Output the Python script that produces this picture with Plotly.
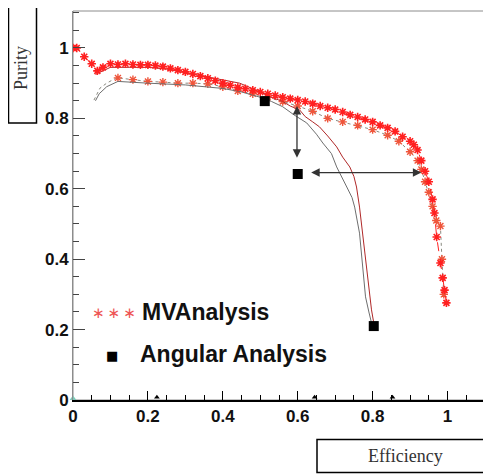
import plotly.graph_objects as go

# --- MVAnalysis (red stars) ---
mv_x = [0.0, 0.01, 0.03, 0.05, 0.065, 0.08, 0.10, 0.12, 0.14, 0.16, 0.18, 0.20, 0.22, 0.24,
        0.26, 0.28, 0.30, 0.32, 0.34, 0.36, 0.38, 0.40, 0.42, 0.44, 0.46, 0.48, 0.50, 0.52,
        0.54, 0.56, 0.58, 0.60, 0.62, 0.64, 0.66, 0.68, 0.70, 0.72, 0.74, 0.76, 0.78, 0.80,
        0.82, 0.84, 0.86, 0.88, 0.90, 0.91, 0.92, 0.93, 0.94, 0.95, 0.96, 0.965, 0.971,
        0.981, 0.987, 0.992, 0.997]
mv_y = [1.0, 1.0, 0.975, 0.955, 0.935, 0.945, 0.955, 0.953, 0.955, 0.953, 0.952, 0.952,
        0.95, 0.947, 0.942, 0.937, 0.932, 0.926, 0.92, 0.914, 0.907, 0.9, 0.894, 0.888,
        0.884, 0.88, 0.875, 0.87, 0.865, 0.86, 0.856, 0.852, 0.848, 0.842, 0.835, 0.83,
        0.825, 0.818, 0.81, 0.804, 0.797, 0.79, 0.78, 0.773, 0.763, 0.748, 0.735, 0.725,
        0.71, 0.68, 0.65, 0.62, 0.57, 0.531, 0.463, 0.389, 0.347, 0.312, 0.276]

# --- second MV sample (grey stars), dotted line starts before the stars ---
mv2_line_x = [0.056, 0.072, 0.09, 0.107]
mv2_line_y = [0.852, 0.886, 0.9, 0.91]
mv2_x = [0.12, 0.16, 0.20, 0.24, 0.28, 0.32, 0.36, 0.40, 0.44, 0.48, 0.52, 0.56, 0.60,
         0.64, 0.68, 0.72, 0.76, 0.80, 0.84, 0.87, 0.90, 0.92, 0.93, 0.94, 0.95, 0.96,
         0.97, 0.981, 0.985, 0.99]
mv2_y = [0.915, 0.91, 0.905, 0.903, 0.90, 0.90, 0.898, 0.89, 0.878, 0.87, 0.86, 0.848,
         0.835, 0.82, 0.80, 0.79, 0.78, 0.768, 0.752, 0.735, 0.705, 0.68, 0.655, 0.62,
         0.59, 0.55, 0.51, 0.494, 0.40, 0.30]

# --- angular analysis curves ---
ang1_x = [0.06, 0.08, 0.10, 0.15, 0.20, 0.25, 0.30, 0.35, 0.40, 0.445, 0.50, 0.53, 0.56,
          0.58, 0.605, 0.62, 0.64, 0.658, 0.68, 0.704, 0.72, 0.739, 0.75, 0.757, 0.765,
          0.773, 0.779, 0.783, 0.787, 0.792, 0.797, 0.805]
ang1_y = [0.925, 0.935, 0.945, 0.945, 0.945, 0.94, 0.93, 0.92, 0.91, 0.9, 0.875, 0.86,
          0.848, 0.835, 0.824, 0.805, 0.79, 0.776, 0.75, 0.719, 0.69, 0.662, 0.635, 0.605,
          0.548, 0.474, 0.426, 0.38, 0.341, 0.30, 0.256, 0.207]
ang2_x = [0.06, 0.07, 0.09, 0.12, 0.20, 0.30, 0.40, 0.45, 0.50, 0.53, 0.56, 0.59, 0.624,
          0.65, 0.667, 0.69, 0.704, 0.72, 0.731, 0.745, 0.752, 0.765, 0.773, 0.778, 0.781,
          0.79, 0.797]
ang2_y = [0.85, 0.87, 0.89, 0.905, 0.9, 0.895, 0.885, 0.875, 0.86, 0.848, 0.833, 0.81,
          0.787, 0.755, 0.73, 0.70, 0.662, 0.63, 0.605, 0.575, 0.548, 0.474, 0.389, 0.34,
          0.293, 0.25, 0.219]

# --- angular analysis working points (squares) ---
sq_x = [0.512, 0.6, 0.803]
sq_y = [0.849, 0.642, 0.21]

# --- arrows (tail x, tail y, head x, head y) ---
arrows = [(0.598, 0.684, 0.598, 0.835), (0.632, 0.646, 0.93, 0.646)]

# small axis markers
axmark_x = [0.224, 0.645, 0.853]

# the page body has an 8px margin: the figure is sized to the window minus that
W, H = 483, 466
ML, MR, MT, MB = 65, 6, 3, 74
PW, PH = W - ML - MR, H - MT - MB


def px(x):  # window pixel -> paper x
    return (x - 8 - ML) / PW


def py(y):  # window pixel -> paper y
    return (8 + MT + PH - y) / PH


fig = go.Figure()

fig.add_trace(go.Scatter(x=mv2_line_x + mv2_x, y=mv2_line_y + mv2_y, mode="lines",
                         line=dict(color="#8a8a80", width=1, dash="dot"), showlegend=False))
fig.add_trace(go.Scatter(x=mv2_x, y=mv2_y, mode="markers",
                         marker=dict(symbol="asterisk-open", size=7,
                                     line=dict(color="#a8a08c", width=1.4)),
                         showlegend=False))
fig.add_trace(go.Scatter(x=ang2_x, y=ang2_y, mode="lines",
                         line=dict(color="#6e6e6e", width=1), showlegend=False))
fig.add_trace(go.Scatter(x=ang1_x, y=ang1_y, mode="lines",
                         line=dict(color="#b02828", width=1), showlegend=False))
fig.add_trace(go.Scatter(x=mv_x, y=mv_y, mode="lines+markers",
                         line=dict(color="#ff2020", width=1, dash="dash"),
                         marker=dict(symbol="asterisk-open", size=7,
                                     line=dict(color="#ff0000", width=1.6)),
                         showlegend=False))
fig.add_trace(go.Scatter(x=sq_x, y=sq_y, mode="markers",
                         marker=dict(symbol="square", size=10, color="black"),
                         showlegend=False))
fig.add_trace(go.Scatter(x=axmark_x, y=[0.008] * len(axmark_x), mode="markers",
                         marker=dict(symbol="triangle-up", size=5, color="black"),
                         cliponaxis=False, showlegend=False))
fig.add_trace(go.Scatter(x=[0.0], y=[0.004], mode="markers",
                         marker=dict(symbol="triangle-up", size=6, color="#7fc8b8"),
                         cliponaxis=False, showlegend=False))

for x0, y0, x1, y1 in arrows:
    fig.add_annotation(x=x1, y=y1, ax=x0, ay=y0, xref="x", yref="y", axref="x", ayref="y",
                       text="", showarrow=True, arrowhead=2, startarrowhead=2,
                       arrowside="end+start", arrowsize=1.3, arrowwidth=1.3,
                       arrowcolor="#333333")


def label(text, x, y, font, xanchor="center", **kw):
    fig.add_annotation(text=text, xref="paper", yref="paper", x=px(x), y=py(y),
                       xanchor=xanchor, yanchor="middle", showarrow=False, font=font, **kw)


# axis title boxes
serif = dict(family="Liberation Serif, Times New Roman, serif", size=18, color="#333333")
fig.add_shape(type="rect", xref="paper", yref="paper", x0=px(8.5), x1=px(36.5),
              y0=py(123), y1=py(6.5), line=dict(color="black", width=1.5))
label("Purity", 21, 68, serif, textangle=-90)
fig.add_shape(type="rect", xref="paper", yref="paper", x0=px(317), x1=px(489.5),
              y0=py(472.5), y1=py(439.5), line=dict(color="black", width=1.5))
label("Efficiency", 405, 456, serif)

# legend drawn as text
bold = dict(family="Arial, Liberation Sans, sans-serif", size=23, color="#111111",
            weight="bold")
label("∗\u2009∗\u2009∗", 114, 313, dict(family="DejaVu Sans", size=15, color="#ee5555"))
label("MVAnalysis", 140, 312, bold, xanchor="left")
label("■", 112, 355, dict(family="DejaVu Sans", size=13, color="black"))
label("Angular Analysis", 138, 354, bold, xanchor="left")

# plot frame (top/right grey)
fig.add_shape(type="rect", xref="paper", yref="paper", x0=0, y0=0, x1=1, y1=1,
              line=dict(color="#8c8c8c", width=1), layer="below")

tickfont = dict(family="Arial, Liberation Sans, sans-serif", size=17, color="#111111",
                weight="bold")
fig.update_xaxes(range=[0, 1.1], tick0=0, dtick=0.2, ticks="inside", ticklen=9,
                 tickwidth=1, tickcolor="black", showline=True, linecolor="black",
                 linewidth=1.5, showgrid=False, zeroline=False, tickfont=tickfont,
                 automargin=False,
                 minor=dict(ticks="inside", ticklen=5, dtick=0.05, tickcolor="black"))
fig.update_yaxes(range=[0, 1.105], tick0=0, dtick=0.2, ticks="inside", ticklen=12,
                 tickwidth=1, tickcolor="#444444", showline=True, linecolor="#8c8c8c",
                 linewidth=1, showgrid=False, zeroline=False, tickfont=tickfont,
                 automargin=False,
                 minor=dict(ticks="inside", ticklen=6, dtick=0.05, tickcolor="#444444"))

fig.update_layout(width=W, height=H, margin=dict(l=ML, r=MR, t=MT, b=MB),
                  plot_bgcolor="white", paper_bgcolor="white", showlegend=False)

fig.write_html("out.html")
